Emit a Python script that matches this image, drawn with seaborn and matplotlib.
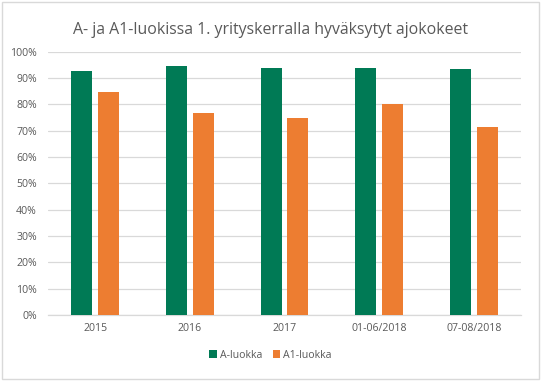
import matplotlib
matplotlib.use("Agg")
import matplotlib.pyplot as plt
import seaborn as sns
import pandas as pd
from matplotlib.patches import Rectangle
from matplotlib.ticker import PercentFormatter

# Arvot luettu kuvasta (%)
periods = ["2015", "2016", "2017", "01-06/2018", "07-08/2018"]
a_luokka = [92.6, 94.5, 93.7, 93.7, 93.3]
a1_luokka = [84.7, 76.8, 74.8, 80.0, 71.4]
series_names = ["A-luokka", "A1-luokka"]
colors = ["#007A55", "#ED7D31"]

def plot_chart():
    df = pd.DataFrame({
        "period": periods * 2,
        "value": a_luokka + a1_luokka,
        "series": [series_names[0]] * len(periods) + [series_names[1]] * len(periods),
    })

    sns.set_style("white")
    plt.rcParams['font.family'] = ['Open Sans', 'DejaVu Sans']

    fig = plt.figure(figsize=(5.41, 3.81), dpi=100)
    ax = fig.add_axes([48 / 541, (381 - 315) / 381, 473 / 541, 263.5 / 381])

    sns.barplot(data=df, x="period", y="value", hue="series", order=periods,
                hue_order=series_names, palette=colors, width=0.57, gap=0.22,
                saturation=1, linewidth=0, ax=ax, zorder=3)

    ax.set_ylim(0, 100)
    ax.set_yticks(range(0, 101, 10))
    ax.yaxis.set_major_formatter(PercentFormatter(decimals=0))
    ax.grid(axis="y", color="#D9D9D9", linewidth=0.9, zorder=0)
    ax.set_axisbelow(True)
    for s in ["top", "right", "left"]:
        ax.spines[s].set_visible(False)
    ax.spines["bottom"].set_color("#D9D9D9")
    ax.spines["bottom"].set_linewidth(0.9)
    ax.tick_params(axis="both", length=0, labelsize=7.6, colors="#595959")
    ax.tick_params(axis="y", pad=8)
    ax.tick_params(axis="x", pad=6)
    ax.set_xlabel("")
    ax.set_ylabel("")

    fig.text(0.5, 1 - 30 / 381, "A- ja A1-luokissa 1. yrityskerralla hyväksytyt ajokokeet",
             ha="center", va="center", fontsize=11.4, color="#595959")

    handles, labels = ax.get_legend_handles_labels()
    ax.legend(handles, labels, loc="center", bbox_to_anchor=(0.5, (381 - 355) / 381),
              bbox_transform=fig.transFigure, ncol=2, frameon=False,
              fontsize=7.6, labelcolor="#595959", handlelength=0.7, handleheight=0.7,
              handletextpad=0.3, columnspacing=1.0)

    fig.patches.append(Rectangle((0.004, 0.005), 0.992, 0.99, transform=fig.transFigure,
                                 fill=False, edgecolor="#D9D9D9", linewidth=1))

    fig.savefig("out.png", dpi=100)

if __name__ == "__main__":
    plot_chart()
